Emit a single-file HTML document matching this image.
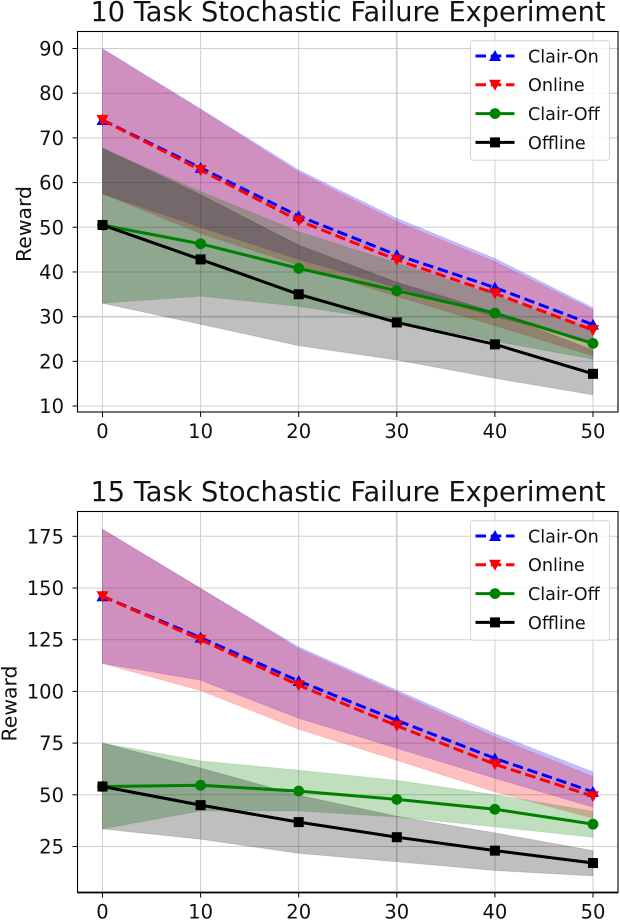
<!DOCTYPE html>
<html>
<head>
<meta charset="utf-8">
<title>Stochastic Failure Experiments</title>
<style>
html,body{margin:0;padding:0;background:#fff;width:620px;height:920px;overflow:hidden}
svg{display:block}
text{font-family:"DejaVu Sans","Liberation Sans",sans-serif;fill:#111}
</style>
</head>
<body>
<svg id="figure" width="620" height="920" viewBox="0 0 620 920" xmlns="http://www.w3.org/2000/svg"></svg>
<script>
var categories = [0, 10, 20, 30, 40, 50];
var seriesNames = ['Clair-On', 'Online', 'Clair-Off', 'Offline'];

var topTicks = [10, 20, 30, 40, 50, 60, 70, 80, 90];
var topClairOnMean = [74, 63.3, 52.5, 43.8, 36.5, 28.2];
var topClairOnUpper = [90, 76.5, 62.8, 52, 43, 32];
var topClairOnLower = [57.5, 50, 42.8, 36.5, 30, 24.5];
var topOnlineMean = [74, 62.8, 51.5, 42.7, 35.2, 27];
var topOnlineUpper = [89.8, 76.3, 62.3, 51.3, 42.3, 31.5];
var topOnlineLower = [57.5, 48.6, 41.5, 34.5, 28, 21.2];
var topClairOffMean = [50.5, 46.3, 40.8, 35.8, 30.8, 24];
var topClairOffUpper = [67.7, 58, 49, 42, 34.8, 27];
var topClairOffLower = [33, 34.6, 32.3, 29, 24.5, 20.5];
var topOfflineMean = [50.5, 42.8, 35, 28.7, 23.8, 17.2];
var topOfflineUpper = [67.7, 57.3, 46, 37.7, 31, 22.5];
var topOfflineLower = [33, 28.3, 23.5, 20.3, 16.2, 12.5];

var bottomTicks = [25, 50, 75, 100, 125, 150, 175];
var bottomClairOnMean = [146, 126, 105, 86, 67.6, 51.4];
var bottomClairOnUpper = [178.4, 149.8, 121.5, 100.6, 79.6, 61];
var bottomClairOnLower = [113.5, 105.4, 87, 72.5, 58, 44];
var bottomOnlineMean = [146, 125, 103, 83.4, 64.8, 49.3];
var bottomOnlineUpper = [178.4, 149.8, 120.5, 99.5, 78, 58.8];
var bottomOnlineLower = [113.5, 100.4, 81.7, 66.7, 51.4, 38.7];
var bottomClairOffMean = [54, 54.6, 51.8, 47.8, 43, 35.8];
var bottomClairOffUpper = [75, 66.4, 61.9, 57, 50, 42];
var bottomClairOffLower = [33.5, 42.2, 42.2, 39.3, 34.5, 29.5];
var bottomOfflineMean = [54, 45, 36.8, 29.5, 23, 17];
var bottomOfflineUpper = [75, 62.9, 49.8, 39.6, 31.6, 23];
var bottomOfflineLower = [33.5, 28.5, 21.7, 17.6, 13.4, 10.8];

var NS = 'http://www.w3.org/2000/svg';
var figure = document.getElementById('figure');
var xTickValues = categories;
var colors = ['#0000ff', '#ff0000', '#008000', '#000000'];
var LW = 3;
var DASH = '10.5 4.8';

function make(tag, attrs, parent) {
  var el = document.createElementNS(NS, tag);
  for (var k in attrs) el.setAttribute(k, attrs[k]);
  parent.appendChild(el);
  return el;
}
function xScale(v) { return 102.5 + v * 9.81; }
function topY(v) { return 48.5 + (90 - v) * 4.469; }
function bottomY(v) { return 536.3 + (175 - v) * 2.068; }

function markerPoints(kind, cx, cy) {
  if (kind === 0) return [[cx, cy - 6], [cx + 6, cy + 5], [cx - 6, cy + 5]].join(' ');
  return [[cx, cy + 6], [cx + 6, cy - 5], [cx - 6, cy - 5]].join(' ');
}
function drawMarker(kind, cx, cy, parent) {
  var m;
  if (kind < 2) {
    m = make('polygon', {points: markerPoints(kind, cx, cy), fill: colors[kind]}, parent);
  } else if (kind === 2) {
    m = make('circle', {cx: cx, cy: cy, r: 5.4, fill: colors[kind]}, parent);
  } else {
    m = make('rect', {x: cx - 5, y: cy - 5, width: 10, height: 10, fill: colors[kind]}, parent);
  }
  return m;
}

function drawChart(key, title, titleY, box, yFn, yTicks, thickY, means, uppers, lowers, legendTop, labelX, labelY, bottomSpine) {
  var g = make('g', {}, figure);
  
  

  var titleEl = make('text', {x: 348, y: titleY, 'text-anchor': 'middle', 'font-size': 27.2}, g);
  titleEl.textContent = title;
  
  

  var yLabel = make('text', {x: labelX, y: labelY, 'text-anchor': 'middle', 'font-size': 20.4, transform: 'rotate(-90 ' + labelX + ' ' + labelY + ')'}, g);
  yLabel.textContent = 'Reward';
  
  

  yTicks.forEach(function (t) {
    var y = yFn(t);
    var line = make('line', {x1: box.l, x2: box.r, y1: y, y2: y, stroke: '#cfcfcf', 'stroke-width': t === thickY ? 1.6 : 1}, g);
    
    
    var tick = make('line', {x1: box.l - 5, x2: box.l, y1: y, y2: y, stroke: '#000', 'stroke-width': 1}, g);
    
    
    var label = make('text', {x: box.l - 13.5, y: y + 7, 'text-anchor': 'end', 'font-size': 19.5}, g);
    label.textContent = String(t);
    
    
  });
  xTickValues.forEach(function (t) {
    var x = xScale(t);
    var line = make('line', {x1: x, x2: x, y1: box.t, y2: box.b, stroke: '#cfcfcf', 'stroke-width': t === 30 ? 1.6 : 1}, g);
    
    
    var tick = make('line', {x1: x, x2: x, y1: box.b, y2: box.b + 5, stroke: '#000', 'stroke-width': 1}, g);
    
    
    var label = make('text', {x: x, y: box.b + 26, 'text-anchor': 'middle', 'font-size': 19.5}, g);
    label.textContent = String(t);
    
    
  });

  seriesNames.forEach(function (name, i) {
    var pts = [];
    categories.forEach(function (c, j) { pts.push(xScale(c) + ',' + yFn(uppers[i][j])); });
    for (var j = categories.length - 1; j >= 0; j--) pts.push(xScale(categories[j]) + ',' + yFn(lowers[i][j]));
    var band = make('polygon', {points: pts.join(' '), fill: colors[i], 'fill-opacity': 0.25, stroke: colors[i], 'stroke-opacity': 0.12, 'stroke-width': 1}, g);
    
    
  });
  seriesNames.forEach(function (name, i) {
    var pts = categories.map(function (c, j) { return xScale(c) + ',' + yFn(means[i][j]); }).join(' ');
    var attrs = {points: pts, fill: 'none', stroke: colors[i], 'stroke-width': LW};
    if (i < 2) attrs['stroke-dasharray'] = DASH;
    var line = make('polyline', attrs, g);
    
    
    categories.forEach(function (c, j) {
      var m = drawMarker(i, xScale(c), yFn(means[i][j]), g);
      
      
    });
  });

  var frame = make('rect', {x: box.l, y: box.t, width: box.r - box.l, height: box.b - box.t, fill: 'none', stroke: '#000', 'stroke-width': 1.1}, g);
  
  
  var spine = make('line', {x1: box.l, x2: box.r, y1: box.b, y2: box.b, stroke: '#000', 'stroke-width': bottomSpine}, g);
  
  

  var legend = make('g', {}, g);
  
  
  var lb = make('rect', {x: 470.5, y: legendTop, width: 139, height: 119.5, rx: 3, fill: '#fff', 'fill-opacity': 0.8, stroke: '#d6d6d6', 'stroke-width': 1}, legend);
  
  
  seriesNames.forEach(function (name, i) {
    var y = legendTop + 15.2 + i * 28.8;
    var a = {x1: 475.5, x2: 514.5, y1: y, y2: y, stroke: colors[i], 'stroke-width': LW};
    if (i < 2) a['stroke-dasharray'] = DASH;
    var h = make('line', a, legend);
    
    
    var m = drawMarker(i, 495, y, legend);
    
    
    var t = make('text', {x: 528, y: y + 6.4, 'font-size': 17.6}, legend);
    t.textContent = name;
    
    
  });
}

drawChart('top', '10 Task Stochastic Failure Experiment', 21,
  {l: 77.5, r: 618, t: 31.5, b: 412}, topY, topTicks, 30,
  [topClairOnMean, topOnlineMean, topClairOffMean, topOfflineMean],
  [topClairOnUpper, topOnlineUpper, topClairOffUpper, topOfflineUpper],
  [topClairOnLower, topOnlineLower, topClairOffLower, topOfflineLower],
  40.8, 31, 224, 1.1);

drawChart('bottom', '15 Task Stochastic Failure Experiment', 501,
  {l: 77.5, r: 618, t: 511.5, b: 892.5}, bottomY, bottomTicks, null,
  [bottomClairOnMean, bottomOnlineMean, bottomClairOffMean, bottomOfflineMean],
  [bottomClairOnUpper, bottomOnlineUpper, bottomClairOffUpper, bottomOfflineUpper],
  [bottomClairOnLower, bottomOnlineLower, bottomClairOffLower, bottomOfflineLower],
  520.8, 16.5, 703.5, 1.7);
</script>
</body>
</html>
